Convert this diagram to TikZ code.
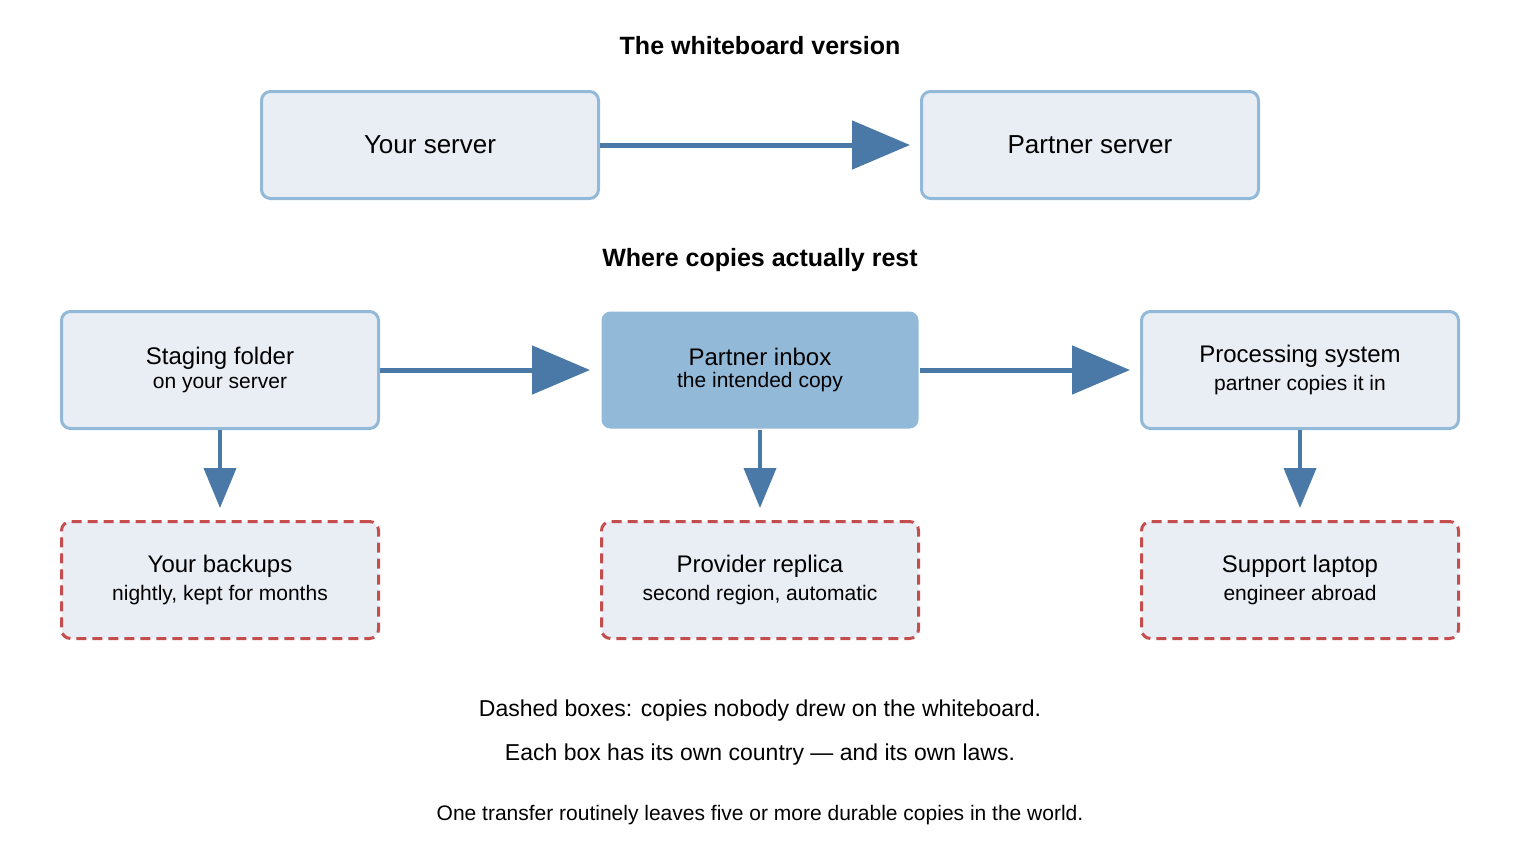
\documentclass[tikz,border=0pt]{standalone}
\usepackage{fontspec}
\setmainfont{Liberation Sans}
\usetikzlibrary{arrows.meta}
\definecolor{boxfill}{HTML}{E9EEF5}
\definecolor{boxline}{HTML}{93B9D9}
\definecolor{hifill}{HTML}{93B9D9}
\definecolor{arr}{HTML}{4A79A8}
\definecolor{redd}{HTML}{C44E4E}
\begin{document}
\begin{tikzpicture}[x=1pt,y=-1pt,
 box/.style={draw=boxline,fill=boxfill,line width=3pt,rounded corners=9pt,minimum width=317pt,minimum height=117pt,align=center,inner sep=0pt},
 bigbox/.style={box,minimum width=337pt,minimum height=107pt,font=\fontsize{26}{30}\selectfont},
 hibox/.style={box,fill=hifill},
 dbox/.style={box,draw=redd,dashed,dash pattern=on 10pt off 6pt},
 harr/.style={draw=arr,line width=5pt,-{Triangle[length=58pt,width=48pt]},shorten >=10pt},
 varr/.style={draw=arr,line width=4pt,-{Triangle[length=40pt,width=32pt]},shorten >=12pt},
 ttl/.style={font=\bfseries\fontsize{25}{30}\selectfont},
 main/.style={font=\fontsize{24}{28}\selectfont},
 sub/.style={font=\fontsize{21}{25}\selectfont}]
\useasboundingbox (0,0) rectangle (1520,860);
\node[ttl] (t1) at (760,46) {The whiteboard version};
\node[bigbox] (ys) at (430,145) {Your server};
\node[bigbox] (ps) at (1090,145) {Partner server};
\draw[harr] (ys) -- (ps);
\node[ttl] (t2) at (760,260) {Where copies actually rest};
\newcommand{\two}[2]{{\fontsize{24}{28}\selectfont #1}\\[6pt]{\fontsize{21}{25}\selectfont #2}}
\node[box] (sf) at (220,370) {\two{Staging folder}{on your server}};
\node[hibox,draw=none] (pi) at (760,370) {\two{Partner inbox}{the intended copy}};
\node[box] (pr) at (1300,370) {\two{Processing system}{partner copies it in}};
\node[dbox] (yb) at (220,580) {\two{Your backups}{nightly, kept for months}};
\node[dbox] (rp) at (760,580) {\two{Provider replica}{second region, automatic}};
\node[dbox] (sl) at (1300,580) {\two{Support laptop}{engineer abroad}};
\draw[harr] (sf) -- (pi);
\draw[harr] (pi) -- (pr);
\draw[varr] (sf) -- (yb);
\draw[varr] (pi) -- (rp);
\draw[varr] (pr) -- (sl);
\node[main,font=\fontsize{23}{27}\selectfont] (f1) at (760,711) {Dashed boxes: copies nobody drew on the whiteboard.};
\node[main,font=\fontsize{23}{27}\selectfont] (f2) at (760,755) {Each box has its own country — and its own laws.};
\node[sub] (f3) at (760,815) {One transfer routinely leaves five or more durable copies in the world.};
\end{tikzpicture}
\end{document}
